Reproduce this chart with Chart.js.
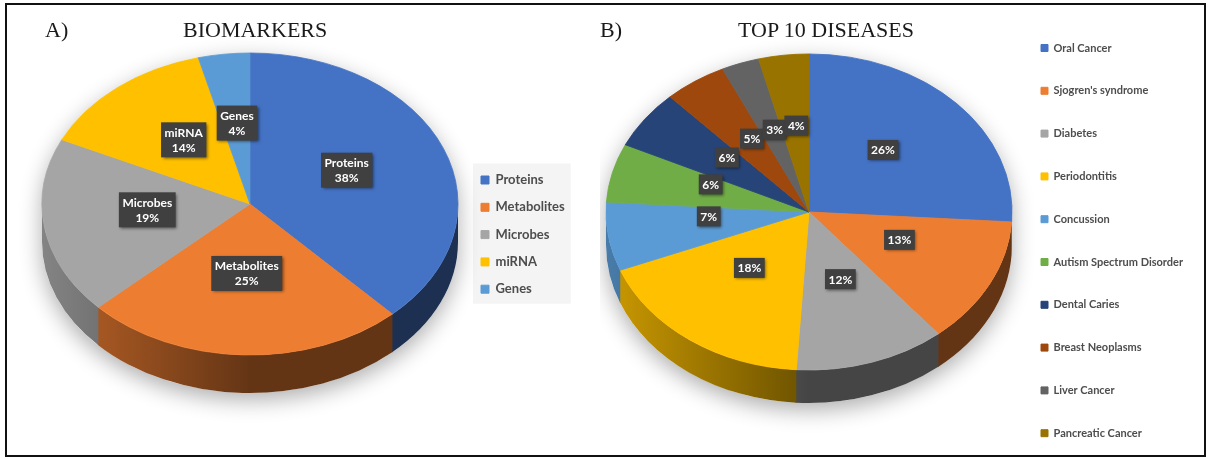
<!DOCTYPE html>
<html>
<head>
<meta charset="utf-8">
<script src="https://cdn.jsdelivr.net/npm/chart.js@4.4.1/dist/chart.umd.min.js"></script>
<style>
  html, body { margin: 0; padding: 0; background: #fff; overflow: hidden; }
  body { width: 1208px; height: 459px; position: relative; }
  .frame { position: absolute; left: 5px; top: 3px; width: 1201px; height: 454px; border: 2px solid #111; box-sizing: border-box; }
  .panel { position: absolute; }
  .heading { position: absolute; font-family: 'Liberation Serif', 'DejaVu Serif', serif; font-size: 22px; line-height: 22px; color: #1a1a1a; white-space: nowrap; }
</style>
</head>
<body>
<div class="panel" style="left:0;top:0;width:600px;height:459px"><canvas id="biomarkers"></canvas></div>
<div class="panel" style="left:600px;top:-30px;width:608px;height:520px"><canvas id="diseases"></canvas></div>
<div class="frame"></div>
<div class="heading" style="left:45px;top:19px">A)</div>
<div class="heading" style="left:183px;top:19px">BIOMARKERS</div>
<div class="heading" style="left:600px;top:19px">B)</div>
<div class="heading" style="left:738px;top:19px">TOP 10 DISEASES</div>
<script>
// Panel A
const biomarkerLabels = ['Proteins', 'Metabolites', 'Microbes', 'miRNA', 'Genes'];
const biomarkerValues = [38, 25, 19, 14, 4];
const biomarkerColors = ['#4472C4', '#ED7D31', '#A5A5A5', '#FFC000', '#5B9BD5'];

// Panel B
const diseaseLabels = ['Oral Cancer', "Sjogren's syndrome", 'Diabetes', 'Periodontitis', 'Concussion',
    'Autism Spectrum Disorder', 'Dental Caries', 'Breast Neoplasms', 'Liver Cancer', 'Pancreatic Cancer'];
const diseaseValues = [26, 13, 12, 18, 7, 6, 6, 5, 3, 4];
const diseaseColors = ['#4472C4', '#ED7D31', '#A5A5A5', '#FFC000', '#5B9BD5',
    '#70AD47', '#264478', '#9E480E', '#636363', '#997300'];

function shade(hex, f) {
    const n = parseInt(hex.slice(1), 16);
    const r = Math.round(((n >> 16) & 255) * f);
    const g = Math.round(((n >> 8) & 255) * f);
    const b = Math.round((n & 255) * f);
    return `rgb(${r},${g},${b})`;
}

function textWidth(list, font) {
    const c = document.createElement('canvas').getContext('2d');
    c.font = font;
    return Math.max(...list.map(t => c.measureText(t).width));
}

// Tilted pie: side walls + shadow, squashed top face, boxed data labels
const pie3d = {
    id: 'pie3d',
    beforeDraw(chart, args, opts) {
        if (!opts.legendBox) return;
        const boxes = chart.legend.legendHitBoxes;
        if (!boxes || !boxes.length) return;
        const first = boxes[0], last = boxes[boxes.length - 1];
        const right = Math.max(...boxes.map(b => b.left + b.width));
        const ctx = chart.ctx;
        ctx.save();
        ctx.fillStyle = '#f4f4f4';
        ctx.fillRect(first.left - 8, first.top - 10, right - first.left + 14, last.top + last.height - first.top + 18);
        ctx.restore();
    },
    beforeDatasetsDraw(chart, args, opts) {
        const ctx = chart.ctx;
        const arcs = chart.getDatasetMeta(0).data;
        const colors = chart.data.datasets[0].backgroundColor;
        const {cx, cy, rx, ry, depth} = opts;

        // soft shadow of the whole disc
        ctx.save();
        ctx.shadowColor = 'rgba(0,0,0,0.32)';
        ctx.shadowBlur = 22;
        ctx.shadowOffsetY = 7;
        ctx.fillStyle = '#fff';
        ctx.beginPath();
        ctx.ellipse(cx, cy, rx, ry, 0, Math.PI, 2 * Math.PI);
        ctx.ellipse(cx, cy + depth, rx, ry, 0, 0, Math.PI);
        ctx.closePath();
        ctx.fill();
        ctx.restore();

        // front walls, darker towards the right
        arcs.forEach((arc, i) => {
            const lo = Math.max(arc.startAngle, 0);
            const hi = Math.min(arc.endAngle + 0.004, Math.PI);
            if (hi <= lo) return;
            const g = ctx.createLinearGradient(cx - rx, 0, cx + rx, 0);
            g.addColorStop(0, shade(colors[i], 0.8));
            g.addColorStop(0.5, shade(colors[i], 0.42));
            g.addColorStop(1, shade(colors[i], 0.42));
            ctx.fillStyle = g;
            ctx.beginPath();
            ctx.ellipse(cx, cy, rx, ry, 0, lo, hi);
            ctx.ellipse(cx, cy + depth, rx, ry, 0, hi, lo, true);
            ctx.closePath();
            ctx.fill();
        });

        const a = arcs[0];
        const s = rx / a.outerRadius;
        ctx.save();
        ctx.translate(cx, cy);
        ctx.scale(s, s * ry / rx);
        ctx.translate(-a.x, -a.y);
    },
    afterDatasetsDraw(chart, args, opts) {
        const ctx = chart.ctx;
        ctx.restore();

        const arcs = chart.getDatasetMeta(0).data;
        const vals = chart.data.datasets[0].data;
        const total = vals.reduce((t, v) => t + v, 0);
        const {cx, cy, rx, ry} = opts;
        const a = arcs[0];
        const s = rx / a.outerRadius;

        ctx.save();
        ctx.font = 'bold 12px Lato, "Open Sans", sans-serif';
        ctx.textAlign = 'center';
        ctx.textBaseline = 'middle';
        arcs.forEach((arc, i) => {
            const p = arc.getCenterPoint();
            const x = cx + (p.x - a.x) * s;
            const y = cy + (p.y - a.y) * s * ry / rx + opts.labelDy;
            const pct = Math.round(vals[i] / total * 100) + '%';
            const lines = opts.showName ? [chart.data.labels[i], pct] : [pct];
            const w = Math.max(...lines.map(t => ctx.measureText(t).width)) + 7;
            const h = lines.length * 15 + 5;
            ctx.shadowColor = 'rgba(0,0,0,0.5)';
            ctx.shadowBlur = 3;
            ctx.shadowOffsetX = 1.5;
            ctx.shadowOffsetY = 1.5;
            ctx.fillStyle = '#404040';
            ctx.fillRect(x - w / 2, y - h / 2, w, h);
            ctx.shadowColor = 'transparent';
            ctx.fillStyle = '#fff';
            lines.forEach((t, j) => ctx.fillText(t, x, y - (lines.length - 1) * 7.5 + j * 15 + 0.5));
        });
        ctx.restore();
    }
};

function makePie(id, labels, values, colors, legendCfg, geo) {
    const font = `bold ${legendCfg.size}px Lato`;
    const maxW = textWidth(labels, font);
    // place the legend box so its swatches start at legendCfg.boxX
    const legendLeft = legendCfg.boxX - legendCfg.padding;
    const legendWidth = legendCfg.padding + legendCfg.box + legendCfg.size / 2 + maxW + 10;
    const padRight = Math.max(0, legendCfg.canvasW - legendLeft - legendWidth);

    return new Chart(document.getElementById(id), {
        type: 'pie',
        data: {
            labels: labels,
            datasets: [{
                data: values,
                backgroundColor: colors,
                borderColor: colors,
                borderWidth: 1,
                hoverOffset: 0,
                clip: false
            }]
        },
        options: {
            responsive: true,
            maintainAspectRatio: false,
            animation: false,
            events: [],
            layout: { padding: { top: legendCfg.padTop, bottom: 0, left: 0, right: padRight } },
            plugins: {
                tooltip: { enabled: false },
                legend: {
                    position: 'right',
                    labels: {
                        boxWidth: legendCfg.box,
                        boxHeight: legendCfg.box,
                        padding: legendCfg.padding,
                        color: '#4d4d4d',
                        font: { family: 'Lato', size: legendCfg.size, weight: 'bold' }
                    }
                },
                pie3d: geo
            }
        },
        plugins: [pie3d]
    });
}

makePie('biomarkers', biomarkerLabels, biomarkerValues, biomarkerColors,
    { size: 13, box: 8, padding: 14.3, boxX: 481, canvasW: 600, padTop: 10.2 },
    { cx: 250, cy: 204, rx: 208, ry: 151, depth: 38, labelDy: -6, showName: true, legendBox: true });

makePie('diseases', diseaseLabels, diseaseValues, diseaseColors,
    { size: 11, box: 7, padding: 31.8, boxX: 441, canvasW: 608, padTop: 21.2 },
    { cx: 209, cy: 242, rx: 203, ry: 158, depth: 33, labelDy: -8, showName: false, legendBox: false });
</script>
</body>
</html>
